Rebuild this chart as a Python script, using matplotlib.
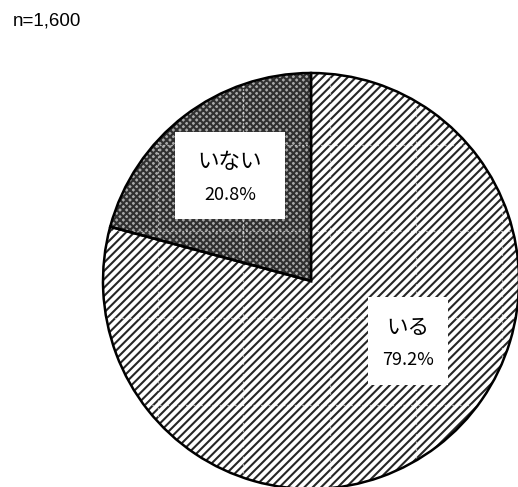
import matplotlib.pyplot as plt
import matplotlib as mpl
from matplotlib.patches import Rectangle

mpl.rcParams['font.family'] = ['Noto Sans CJK JP', 'DejaVu Sans']

# respondents answering whether they have one
labels = ["いない", "いる"]
shares = [20.8, 79.2]
hatches = ["xxxxx", "////"]
faces = ["#a8a8a8", "white"]
hatch_colors = ["#303030", "#262626"]
sample_note = "n=1,600"

W, H = 518, 487
fig = plt.figure(figsize=(W / 100, H / 100), dpi=100)

# pie centre (311, 281) px from the top-left, radius 208 px
cx, cy, r = 311, 281, 208
ax = fig.add_axes([(cx - r) / W, (H - cy - r) / H, 2 * r / W, 2 * r / H])


def px(x, y):
    # pixel position (from top-left) -> data coords of the pie axes
    return (x - cx) / r, (cy - y) / r


# hatched fills first, then the black outline on top
mpl.rcParams['hatch.linewidth'] = 1.5
fills, _ = ax.pie(shares, startangle=90, counterclock=True, colors=faces,
                  wedgeprops=dict(linewidth=0))
for w, h, hc in zip(fills, hatches, hatch_colors):
    w.set_hatch(h)
    w.set_edgecolor(hc)
    w.set_linewidth(0)

# faint tile seams running through the hatching
for gx in [158, 243, 330, 416, 502]:
    x0, _ = px(gx, 0)
    for w in fills:
        ln = ax.plot([x0, x0], [-1, 1], color="white", lw=0.9,
                     ls=(0, (1.5, 1.5)), alpha=0.6, zorder=3)[0]
        ln.set_clip_path(w)
for gy in [145, 231, 318, 405]:
    _, y0 = px(0, gy)
    for w in fills:
        ln = ax.plot([-1, 1], [y0, y0], color="white", lw=0.9,
                     ls=(0, (1.5, 1.5)), alpha=0.6, zorder=3)[0]
        ln.set_clip_path(w)

ax.pie(shares, startangle=90, counterclock=True,
       wedgeprops=dict(fill=False, edgecolor="black", linewidth=1.8, zorder=4))

ax.set_xlim(-1, 1)
ax.set_ylim(-1, 1)
ax.set_aspect("equal")

# value labels in white boxes: (box left, top, right, bottom) in px
boxes = [(175, 132, 285, 219), (368, 297, 448, 385)]
name_y = [162, 328]
pct_y = [195, 360]
for (l, t, rr, b), ny, py, name, v in zip(boxes, name_y, pct_y, labels, shares):
    x0, y0 = px(l, b)
    x1, y1 = px(rr, t)
    ax.add_patch(Rectangle((x0, y0), x1 - x0, y1 - y0, facecolor="white",
                           edgecolor="none", zorder=5))
    xc = (x0 + x1) / 2
    ax.text(xc, px(0, ny)[1], name, ha="center", va="center",
            fontsize=15.5, zorder=6)
    ax.text(xc, px(0, py)[1], f"{v:.1f}%", ha="center", va="center",
            fontsize=13, zorder=6)

fig.text(13 / W, 1 - 21 / H, sample_note, ha="left", va="center",
         fontsize=13.5, family="Liberation Sans")

fig.savefig("out.png", dpi=100)
